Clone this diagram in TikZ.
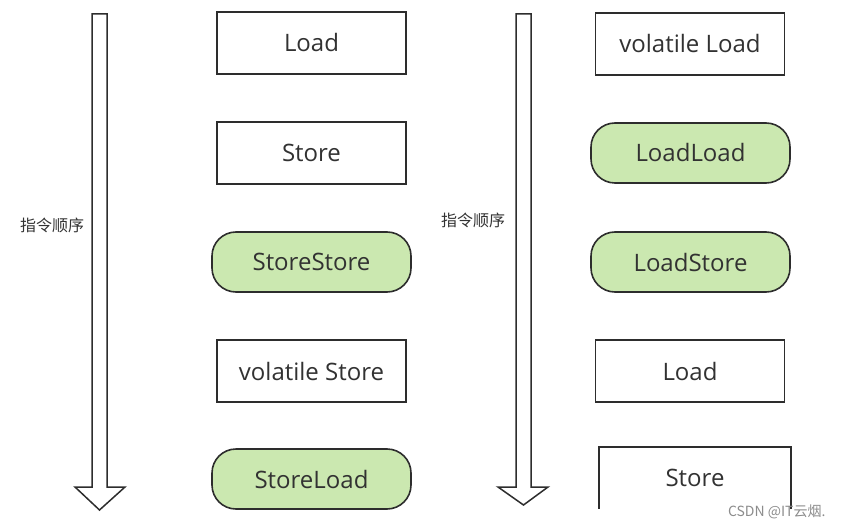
\documentclass[tikz,border=0pt]{standalone}
\usepackage{fontspec}
\setmainfont{Open Sans}
\newfontfamily\cjk{Noto Sans CJK SC}

\definecolor{verde}{RGB}{203,232,176}
\definecolor{borde}{RGB}{45,45,45}
\definecolor{texto}{RGB}{50,50,50}

\tikzset{
  caja/.style={draw=borde, line width=1.6pt, fill=white, text=texto,
    minimum width=189pt, minimum height=62pt, inner sep=0pt,
    font=\fontsize{24}{28}\selectfont},
  barrera/.style={caja, fill=verde, rounded corners=24pt,
    minimum width=199pt, minimum height=60pt},
  flecha/.style={draw=borde, line width=1.5pt, fill=white},
  orden/.style={text=texto, font=\cjk\fontsize{16}{18}\selectfont},
}

\begin{document}
\begin{tikzpicture}[x=1pt,y=-1pt]
    \useasboundingbox (0,0) rectangle (845,529);

    % Flechas de orden
    \draw[flecha] (92,14) -- (107,14) -- (107,487) -- (125,487) -- (99.5,510)
        -- (75,487) -- (92,487) -- cycle;
    \draw[flecha] (516,14) -- (531,14) -- (531,487) -- (548,487) -- (523.5,505)
        -- (498,487) -- (516,487) -- cycle;
    \node[orden] (ordenA) at (52,225) {指令顺序};
    \node[orden] (ordenB) at (473,220) {指令顺序};

    % volatile Store
    \node[caja]    (loadA)  at (311.5,43)  {Load};
    \node[caja]    (storeA) at (311.5,153) {Store};
    \node[barrera] (ss)     at (311.5,262) {StoreStore};
    \node[caja]    (vstore) at (311.5,371) {volatile Store};
    \node[barrera] (sl)     at (311.5,479) {StoreLoad};

    % volatile Load
    \node[caja]    (vload)  at (690,44)  {volatile Load};
    \node[barrera] (ll)     at (690.5,153) {LoadLoad};
    \node[barrera] (ls)     at (690.5,262) {LoadStore};
    \node[caja]    (loadB)  at (690,371) {Load};
    \node[caja, draw=none, minimum width=190pt, minimum height=60pt]
                   (storeB) at (695,478) {Store};
    \draw[borde, line width=1.6pt] (storeB.south west) -- (storeB.north west)
        -- (storeB.north east) -- (storeB.south east);

    % marca
    \node[text=black!45, font=\cjk\fontsize{14}{16}\selectfont, anchor=east]
        (marca) at (829,512) {CSDN @IT云烟.};
\end{tikzpicture}
\end{document}
